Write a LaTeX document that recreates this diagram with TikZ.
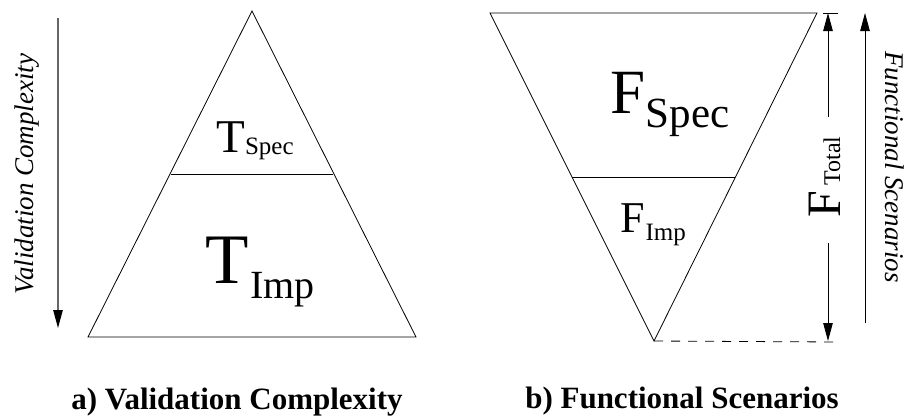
\documentclass[tikz,border=0pt]{standalone}
\usepackage{fontspec}
\setmainfont{Liberation Serif}
\usetikzlibrary{arrows.meta}
\begin{document}
\begin{tikzpicture}[x=1pt,y=-1pt,line width=0.8pt,
  tipend/.style={-{Triangle[length=18pt,width=9.5pt,color=black]}},
  lbl/.style={inner sep=0pt,anchor=base},
  sidelbl/.style={inner sep=0pt,anchor=base,font=\fontsize{27}{27}\selectfont\itshape},
  caption/.style={inner sep=0pt,anchor=base,font=\fontsize{31}{31}\selectfont\bfseries}]
\useasboundingbox (0,0) rectangle (912,418);

% ---- left pyramid ----
\coordinate (ta) at (252,11);
\coordinate (tl) at (88,337);
\coordinate (tr) at (416,337);
\coordinate (tml) at (171,174);
\coordinate (tmr) at (333,174);
\draw (ta) -- (tr) -- (tl) -- cycle;
\draw (tml) -- (tmr);
\node[lbl] (tspec) at (255,152) {\fontsize{47}{47}\selectfont T\raisebox{-2pt}{\fontsize{25}{25}\selectfont Spec}};
\node[lbl] (timp) at (260,283) {\fontsize{71}{71}\selectfont T\hspace{2pt}\raisebox{-15pt}{\fontsize{40}{40}\selectfont Imp}};

\coordinate (va) at (58,18);
\coordinate (vb) at (58,328);
\draw[tipend,draw=black!60,line width=1.1pt] (va) -- (vb);
\node[sidelbl,rotate=90] (vlab) at (33,174) {Validation Complexity};

% ---- right inverted pyramid ----
\coordinate (fl) at (490,13);
\coordinate (fr) at (817,13);
\coordinate (fa) at (654,341);
\coordinate (fml) at (572,177);
\coordinate (fmr) at (735,177);
\draw (fl) -- (fr) -- (fa) -- cycle;
\draw (fml) -- (fmr);
\node[lbl] (fspec) at (670,113) {\fontsize{63}{63}\selectfont F\raisebox{-14pt}{\fontsize{43}{43}\selectfont Spec}};
\node[lbl] (fimp) at (653,232) {\fontsize{44}{44}\selectfont F\hspace{1pt}\raisebox{-8pt}{\fontsize{25}{25}\selectfont Imp}};

% dimension F_Total
\coordinate (tk1) at (823,13);
\coordinate (tk2) at (838,13);
\draw (tk1) -- (tk2);
\coordinate (dl) at (838,342);
\draw[dash pattern=on 9pt off 8pt] (fa) -- (dl);
\coordinate (dtop) at (828,13);
\coordinate (dbot) at (828,341);
\coordinate (dg1) at (828,117);
\coordinate (dg2) at (828,243);
\draw[tipend] (dg1) -- (dtop);
\draw[tipend] (dg2) -- (dbot);
\node[lbl,rotate=90] (ftot) at (840,177) {\fontsize{48}{48}\selectfont F\hspace{5pt}{\fontsize{24}{24}\selectfont Total}};

\coordinate (sa) at (865,323);
\coordinate (sb) at (865,13);
\draw[tipend] (sa) -- (sb);
\node[sidelbl,rotate=-90] (slab) at (885,167) {Functional Scenarios};

% captions
\node[caption] (capa) at (237,409) {a) Validation Complexity};
\node[caption] (capb) at (682,408) {b) Functional Scenarios};
\end{tikzpicture}
\end{document}
